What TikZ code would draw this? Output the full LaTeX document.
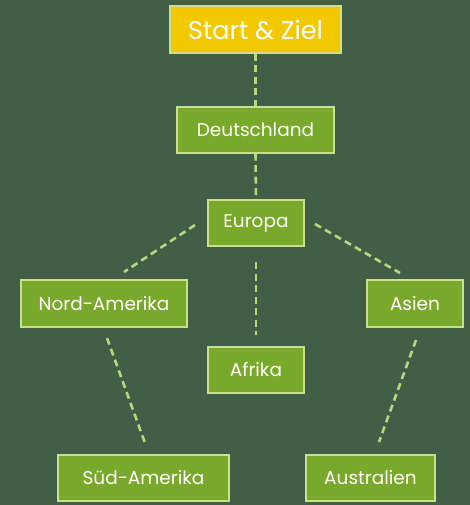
\documentclass[tikz,border=0pt]{standalone}
\usepackage{fontspec}
\setmainfont{Poppins}
\definecolor{bg}{HTML}{435E46}
\definecolor{boxfill}{HTML}{79A92B}
\definecolor{boxline}{HTML}{C8E08E}
\definecolor{startfill}{HTML}{F2C800}
\definecolor{dashcol}{HTML}{B8D67E}
\begin{document}
\begin{tikzpicture}[x=1pt,y=-1pt,
  box/.style={draw=boxline, line width=1.2pt, fill=boxfill, text=white, font=\fontsize{18.5}{20}\selectfont, inner sep=0pt, anchor=center},
  startbox/.style={box, fill=startfill, font=\fontsize{25.5}{28}\selectfont},
  link/.style={draw=dashcol, line width=2.6pt, dash pattern=on 7pt off 4.5pt}]
\fill[bg] (0,0) rectangle (470,505);
\useasboundingbox (0,0) rectangle (470,505);
\node[startbox, minimum width=171pt, minimum height=47pt] (start) at (255.5,29.5) {Start \& Ziel};
\node[box, minimum width=157pt, minimum height=46pt] (de) at (255.5,130) {Deutschland};
\node[box, minimum width=96pt, minimum height=46pt] (eu) at (256,223) {Europa};
\node[box, minimum width=166pt, minimum height=47pt] (na) at (104,303.5) {Nord-Amerika};
\node[box, minimum width=96pt, minimum height=47pt] (as) at (415,303.5) {Asien};
\node[box, minimum width=96pt, minimum height=46pt] (af) at (256,370) {Afrika};
\node[box, minimum width=171pt, minimum height=46pt] (sa) at (143.5,478) {Süd-Amerika};
\node[box, minimum width=129pt, minimum height=46pt] (au) at (370.5,478) {Australien};
\coordinate (euNa1) at (195,225);
\coordinate (euNa2) at (124,272);
\coordinate (euAs1) at (315,224);
\coordinate (euAs2) at (400,273);
\coordinate (euAf1) at (256,262);
\coordinate (euAf2) at (256,335);
\coordinate (naSa1) at (107,338);
\coordinate (naSa2) at (145,443);
\coordinate (asAu1) at (416,340);
\coordinate (asAu2) at (379,442);
\draw[link] (start.south) -- (de.north);
\draw[link] (de.south) -- (eu.north);
\draw[link] (euNa1) -- (euNa2);
\draw[link] (euAs1) -- (euAs2);
\draw[link] (euAf1) -- (euAf2);
\draw[link] (naSa1) -- (naSa2);
\draw[link] (asAu1) -- (asAu2);
\end{tikzpicture}
\end{document}
